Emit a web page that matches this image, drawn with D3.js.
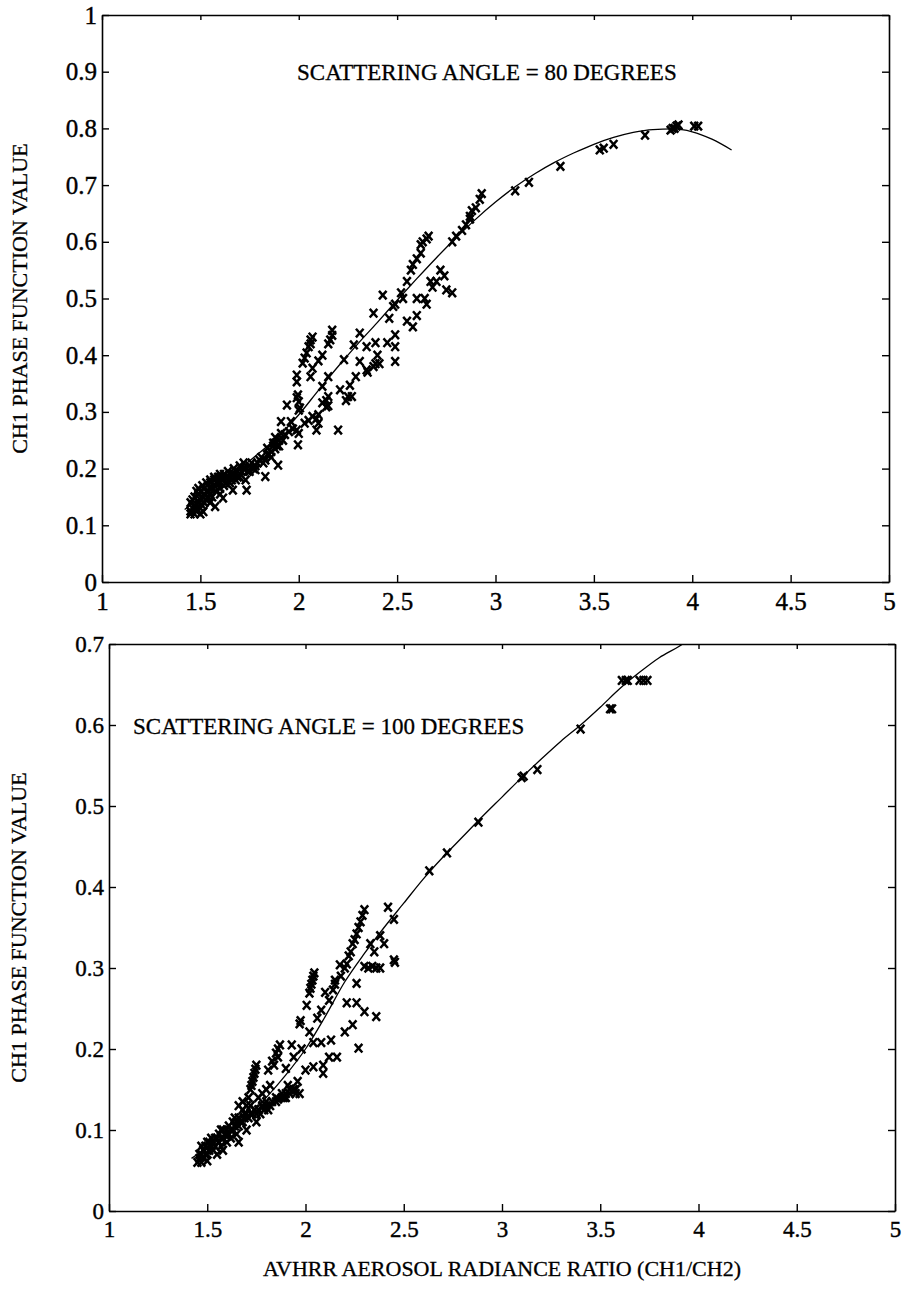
<!DOCTYPE html>
<html>
<head>
<meta charset="utf-8">
<script src="https://cdn.jsdelivr.net/npm/d3@7"></script>
<style>
  body { margin: 0; background: #fff; }
  svg text { font-family: "Liberation Serif", "Times New Roman", serif; fill: #000; }
</style>
</head>
<body>
<svg id="chart" width="902" height="1293"></svg>
<script>
// tick labels
var xTicks = [1, 1.5, 2, 2.5, 3, 3.5, 4, 4.5, 5];
var yTicksTop = [0, 0.1, 0.2, 0.3, 0.4, 0.5, 0.6, 0.7, 0.8, 0.9, 1];
var yTicksBot = [0, 0.1, 0.2, 0.3, 0.4, 0.5, 0.6, 0.7];

// 80 degree panel: measured points
var pts80X = [1.45,1.45,1.46,1.45,1.47,1.47,1.47,1.48,1.48,1.49,1.49,1.5,1.5,1.5,1.51,1.52,1.52,1.52,1.53,1.54,1.54,1.55,1.55,1.56,1.56,1.57,1.57,1.58,1.59,1.59,1.6,1.6,1.61,1.62,1.62,1.63,1.64,1.65,1.66,1.67,1.68,1.69,1.7,1.7,1.72,1.72,1.74,1.75,1.76,1.77,1.79,1.8,1.81,1.83,1.84,1.86,1.86,1.88,1.88,1.9,1.9,
  1.46,1.48,1.49,1.51,1.51,1.53,1.53,1.55,1.55,1.57,1.58,1.6,1.61,1.63,1.64,1.66,1.67,1.69,1.71,1.73,1.75,1.78,1.82,1.85,1.87,1.89,1.92,1.93,1.95,1.97,
  1.5,1.515,1.55,1.575,1.6,1.615,1.665,1.73,1.735,1.78,1.83,1.895,1.84,1.87,1.91,
  1.94,2.0,2.0,1.91,1.96,1.99,2.0,2.07,2.09,2.14,2.2,1.996,1.88,2.006,2.03,2.05,2.1,
  1.99,1.996,1.99,1.99,2.02,2.03,2.04,2.05,2.06,2.06,2.07,
  2.06,2.07,2.1,2.12,2.15,2.16,2.17,2.17,2.15,2.12,
  2.12,2.14,2.15,2.15,2.09,2.21,2.25,2.27,2.26,2.29,2.23,2.31,2.345,2.35,2.39,2.41,2.49,2.31,2.28,2.345,2.39,2.45,2.49,2.49,2.38,2.46,2.48,2.49,2.427,2.1,2.24,2.38,2.4,
  2.52,2.53,2.55,2.57,2.58,2.6,2.62,2.63,2.65,2.66,2.62,2.55,2.58,2.6,2.65,2.68,2.7,2.72,2.74,2.75,2.78,2.6,2.64,2.67,
  2.78,2.8,2.83,2.85,2.87,2.88,2.9,2.92,2.93,2.87,3.1,3.17,3.33,3.53,3.55,3.6,3.76,3.89,3.9,3.92,3.93,3.91,4.01,4.03];
var pts80Y = [0.12,0.125,0.13,0.14,0.12,0.135,0.15,0.16,0.125,0.14,0.155,0.13,0.145,0.16,0.17,0.14,0.155,0.165,0.175,0.15,0.16,0.175,0.18,0.15,0.165,0.18,0.185,0.16,0.175,0.185,0.19,0.165,0.18,0.19,0.17,0.185,0.195,0.175,0.19,0.2,0.18,0.195,0.205,0.185,0.2,0.21,0.195,0.205,0.21,0.2,0.21,0.215,0.22,0.215,0.225,0.22,0.23,0.235,0.245,0.24,0.25,
  0.145,0.13,0.165,0.15,0.135,0.16,0.145,0.155,0.165,0.17,0.175,0.175,0.185,0.175,0.185,0.18,0.19,0.185,0.195,0.2,0.195,0.205,0.21,0.225,0.24,0.24,0.25,0.26,0.265,0.27,
  0.12,0.124,0.14,0.133,0.155,0.148,0.162,0.18,0.162,0.198,0.186,0.206,0.236,0.245,0.262,
  0.312,0.303,0.318,0.283,0.283,0.268,0.262,0.292,0.268,0.309,0.268,0.242,0.255,0.307,0.28,0.285,0.295,
  0.325,0.33,0.353,0.365,0.386,0.395,0.404,0.415,0.427,0.42,0.432,
  0.362,0.377,0.39,0.4,0.42,0.427,0.435,0.444,0.362,0.345,
  0.316,0.32,0.311,0.327,0.288,0.339,0.327,0.327,0.347,0.362,0.392,0.389,0.374,0.37,0.385,0.385,0.389,0.439,0.418,0.415,0.422,0.422,0.415,0.436,0.474,0.465,0.486,0.49,0.506,0.28,0.32,0.38,0.4,
  0.51,0.5,0.53,0.55,0.56,0.57,0.58,0.6,0.605,0.61,0.595,0.46,0.45,0.47,0.49,0.52,0.53,0.55,0.54,0.515,0.51,0.5,0.5,0.53,
  0.6,0.61,0.62,0.63,0.645,0.655,0.66,0.675,0.685,0.64,0.69,0.705,0.733,0.762,0.765,0.772,0.788,0.797,0.8,0.804,0.806,0.8,0.804,0.804];

// 80 degree panel: fitted curve
var fit80X = [1.42,1.5,1.6,1.7,1.8,1.9,2.0,2.1,2.2,2.3,2.4,2.5,2.6,2.7,2.8,2.9,3.0,3.1,3.2,3.3,3.4,3.5,3.6,3.7,3.8,3.9,4.0,4.1,4.2];
var fit80Y = [0.128,0.148,0.175,0.2,0.228,0.258,0.295,0.338,0.38,0.42,0.458,0.497,0.535,0.572,0.607,0.64,0.67,0.697,0.72,0.74,0.757,0.772,0.784,0.793,0.798,0.799,0.794,0.781,0.762];

// 100 degree panel: measured points
var pts100X = [3.61,3.63,3.64,3.7,3.72,3.74,3.55,3.56,3.4,3.18,3.1,3.11,2.88,2.72,2.63,2.45,2.45,2.42,2.38,
  2.3,2.29,2.28,2.27,2.26,2.25,2.24,2.23,2.22,2.21,
  2.35,2.33,2.32,2.36,2.3,2.34,2.455,2.38,2.4,
  2.3,2.36,2.26,2.21,2.26,2.27,2.24,2.2,2.16,2.12,2.13,2.08,2.04,2.02,2.175,2.2,2.15,2.15,2.14,2.12,2.08,2.06,2.1,2.18,
  2.02,2.025,2.03,2.035,2.04,2.045,2.006,1.97,1.975,
  1.93,1.98,1.94,2.0,2.04,2.09,2.09,1.9,1.86,1.86,1.85,1.87,1.81,1.84,1.83,
  1.72,1.725,1.73,1.735,1.74,1.745,1.75,
  1.9,1.92,1.94,1.95,1.88,1.96,1.91,1.8,1.78,1.76,1.82,1.7,1.74,1.78,1.8,1.85,1.88,1.9,1.68,1.71,
  1.45,1.46,1.47,1.47,1.48,1.48,1.49,1.5,1.5,1.51,1.52,1.52,1.53,1.54,1.55,1.56,1.57,1.58,1.59,1.6,1.61,1.62,1.63,1.64,1.65,1.66,1.68,1.69,1.7,1.72,1.74,1.76,1.78,1.8,1.82,1.85,
  1.46,1.47,1.49,1.5,1.51,1.53,1.54,1.56,1.57,1.58,1.6,1.61,1.63,1.64,1.66,1.67,1.69,1.71,1.73,1.75,1.77,1.79,1.81,1.83,1.86,1.89,1.92,1.95,1.97,1.68,1.72,1.66,
  1.5,1.55,1.58,1.6,1.62,1.66,1.7,1.75,1.65,1.57];
var pts100Y = [0.655,0.655,0.655,0.655,0.655,0.655,0.62,0.62,0.595,0.545,0.535,0.537,0.48,0.442,0.42,0.36,0.31,0.375,0.34,
  0.372,0.365,0.357,0.35,0.342,0.335,0.33,0.32,0.315,0.305,
  0.32,0.33,0.3,0.3,0.302,0.302,0.307,0.3,0.33,
  0.246,0.24,0.257,0.257,0.281,0.201,0.23,0.221,0.19,0.19,0.211,0.208,0.208,0.221,0.304,0.3,0.285,0.28,0.273,0.26,0.248,0.238,0.27,0.29,
  0.269,0.275,0.28,0.285,0.29,0.294,0.254,0.231,0.235,
  0.205,0.2,0.19,0.174,0.178,0.18,0.17,0.176,0.19,0.2,0.195,0.205,0.174,0.18,0.185,
  0.15,0.155,0.16,0.165,0.17,0.175,0.18,
  0.145,0.15,0.15,0.145,0.145,0.16,0.155,0.15,0.145,0.14,0.155,0.13,0.125,0.13,0.135,0.14,0.14,0.14,0.135,0.14,
  0.06,0.065,0.06,0.07,0.075,0.065,0.08,0.07,0.085,0.075,0.08,0.09,0.085,0.08,0.09,0.095,0.09,0.1,0.095,0.1,0.105,0.1,0.11,0.105,0.11,0.115,0.11,0.12,0.12,0.12,0.125,0.125,0.128,0.13,0.13,0.135,
  0.07,0.08,0.07,0.078,0.085,0.075,0.09,0.085,0.1,0.09,0.092,0.095,0.1,0.115,0.105,0.11,0.115,0.115,0.12,0.12,0.12,0.125,0.125,0.135,0.138,0.14,0.145,0.15,0.145,0.125,0.13,0.13,
  0.062,0.07,0.075,0.085,0.09,0.085,0.1,0.11,0.095,0.08];

// 100 degree panel: fitted curve
var fit100X = [1.42,1.5,1.6,1.7,1.8,1.9,2.0,2.1,2.2,2.3,2.4,2.5,2.6,2.7,2.8,2.9,3.0,3.1,3.2,3.3,3.4,3.5,3.6,3.7,3.8,3.9,3.95];
var fit100Y = [0.065,0.078,0.095,0.115,0.14,0.168,0.2,0.24,0.283,0.318,0.35,0.38,0.41,0.437,0.462,0.487,0.511,0.535,0.558,0.58,0.6,0.622,0.645,0.665,0.683,0.697,0.705];

var svg = d3.select("#chart");

function panel(opts) {
  var x = d3.scaleLinear().domain([1, 5]).range([opts.left, opts.right]);
  var y = d3.scaleLinear().domain([0, opts.ymax]).range([opts.bottom, opts.top]);
  var g = svg.append("g");

  g.append("clipPath").attr("id", opts.id)
    .append("rect")
    .attr("x", opts.left).attr("y", opts.top)
    .attr("width", opts.right - opts.left).attr("height", opts.bottom - opts.top);

  // axes, ticks pointing in
  var fs = opts.fs + "px";
  var ax = g.append("g").attr("transform", "translate(0," + opts.bottom + ")")
    .call(d3.axisBottom(x).tickValues(xTicks).tickSizeInner(-7).tickSizeOuter(0).tickPadding(9).tickFormat(String));
  var ay = g.append("g").attr("transform", "translate(" + opts.left + ",0)")
    .call(d3.axisLeft(y).tickValues(opts.yTicks).tickSizeInner(-7).tickSizeOuter(0).tickPadding(5).tickFormat(String));
  g.append("g").attr("transform", "translate(0," + opts.top + ")")
    .call(d3.axisTop(x).tickValues(xTicks).tickSizeInner(-5).tickSizeOuter(0).tickFormat(""));
  g.append("g").attr("transform", "translate(" + opts.right + ",0)")
    .call(d3.axisRight(y).tickValues(opts.yTicks).tickSizeInner(-7).tickSizeOuter(0).tickFormat(""));
  g.selectAll(".domain").attr("stroke", "#000").attr("stroke-width", 1.6);
  g.selectAll(".tick line").attr("stroke", "#000").attr("stroke-width", 1.4);
  g.selectAll(".tick text").style("font-size", fs).style("font-family", '"Liberation Serif", serif')
    .attr("fill", "#000").attr("stroke", "#000").attr("stroke-width", 0.4);
  ax.selectAll(".tick text").attr("dy", "0.75em");

  // fitted curve
  var line = d3.line().x(function(d) { return x(d[0]); }).y(function(d) { return y(d[1]); }).curve(d3.curveMonotoneX);
  g.append("path")
    .datum(opts.fx.map(function(v, i) { return [v, opts.fy[i]]; }))
    .attr("clip-path", "url(#" + opts.id + ")")
    .attr("d", line)
    .attr("fill", "none").attr("stroke", "#000").attr("stroke-width", 1.3);

  // x markers
  g.selectAll("path.pt")
    .data(opts.px.map(function(v, i) { return [v, opts.py[i]]; }))
    .enter().append("path")
    .attr("class", "pt")
    .attr("transform", function(d) { return "translate(" + x(d[0]) + "," + y(d[1]) + ")"; })
    .attr("d", "M-3.8,-4.3L3.8,4.3M-3.8,4.3L3.8,-4.3")
    .attr("stroke", "#000").attr("stroke-width", 2.5).attr("fill", "none");

  g.append("text")
    .attr("x", opts.noteX).attr("y", opts.noteY)
    .style("font-size", "23px")
    .attr("stroke", "#000").attr("stroke-width", 0.3)
    .text(opts.note);

  g.append("text")
    .attr("transform", "translate(" + opts.titleX + "," + ((opts.top + opts.bottom) / 2) + ") rotate(-90)")
    .attr("text-anchor", "middle")
    .attr("dy", "0.35em")
    .style("font-size", "22px")
    .attr("stroke", "#000").attr("stroke-width", 0.3)
    .text("CH1 PHASE FUNCTION VALUE");
  return x;
}

panel({ id: "c80", left: 102, right: 889, top: 15, bottom: 582, ymax: 1, yTicks: yTicksTop, fs: 25,
  px: pts80X, py: pts80Y, fx: fit80X, fy: fit80Y,
  note: "SCATTERING ANGLE = 80 DEGREES", noteX: 297, noteY: 80, titleX: 19 });

var xb = panel({ id: "c100", left: 109, right: 895, top: 644, bottom: 1211, ymax: 0.7, yTicks: yTicksBot, fs: 23,
  px: pts100X, py: pts100Y, fx: fit100X, fy: fit100Y,
  note: "SCATTERING ANGLE = 100 DEGREES", noteX: 133, noteY: 734, titleX: 18 });

svg.append("text")
  .attr("x", xb(3)).attr("y", 1276)
  .attr("text-anchor", "middle")
  .style("font-size", "22px")
  .attr("stroke", "#000").attr("stroke-width", 0.3)
  .text("AVHRR AEROSOL RADIANCE RATIO (CH1/CH2)");
</script>
</body>
</html>
